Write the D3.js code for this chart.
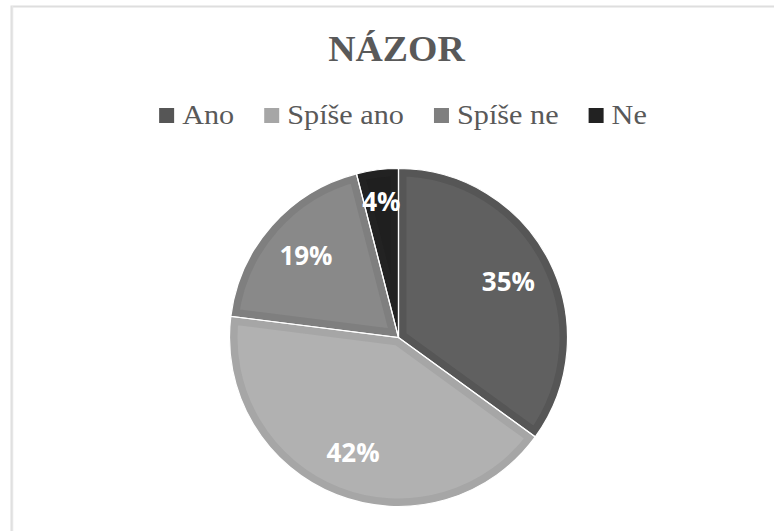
<!DOCTYPE html>
<head>
<meta charset="utf-8">
<style>
    body { margin: 0; background: #fff; }
    .title { font-family: "Liberation Serif", "Times New Roman", serif; font-weight: bold; fill: #595959; }
    .legend text { font-family: "Liberation Serif", "Times New Roman", serif; fill: #595959; }
    .label { font-family: "Open Sans", sans-serif; font-weight: bold; fill: #fff; }
</style>
<title>Názor</title>
</head>
<body>
<script src="https://cdn.jsdelivr.net/npm/d3@7"></script>
<script>
    // data
    const categories = ['Ano', 'Spíše ano', 'Spíše ne', 'Ne'];
    const values = [35, 42, 19, 4];
    const fills = ['#606060', '#b1b1b1', '#898989', '#1f1f1f'];
    const borders = ['#565656', '#a6a6a6', '#7f7f7f', '#222222'];

    const width = 774, height = 531;
    const cx = 398.5, cy = 337.5, radius = 169;

    const svg = d3.select('body').append('svg')
        .attr('width', width)
        .attr('height', height);

    // chart area frame (only top and left edges are visible)
    svg.append('rect')
        .attr('x', 11.5).attr('y', 6.5)
        .attr('width', 800).attr('height', 600)
        .attr('fill', 'none')
        .attr('stroke', '#dedede')
        .attr('stroke-width', 2);
    svg.append('line')
        .attr('x1', 12.5).attr('x2', 12.5).attr('y1', 6).attr('y2', height)
        .attr('stroke', '#e6e6e6').attr('stroke-width', 1.5);

    svg.append('text')
        .attr('class', 'title')
        .attr('transform', 'translate(396.5,61) scale(1.05,1)')
        .attr('text-anchor', 'middle')
        .attr('font-size', '36px')
        .text('NÁZOR');

    // legend
    const legend = svg.append('g').attr('class', 'legend');
    const sq = 15, gapText = 8, gapItem = 30, fs = 27, sx = 1.12;
    const items = legend.selectAll('g').data(categories).join('g');
    items.append('rect')
        .attr('y', 108).attr('width', sq).attr('height', sq)
        .attr('fill', (d, i) => borders[i]);
    items.append('text')
        .attr('font-size', fs + 'px')
        .text(d => d);
    const widths = [];
    items.select('text').each(function () { widths.push(this.getComputedTextLength() * sx); });
    const total = d3.sum(widths) + categories.length * (sq + gapText) + (categories.length - 1) * gapItem;
    let lx = 403 - total / 2;
    items.each(function (d, i) {
        const g = d3.select(this);
        g.select('rect').attr('x', lx);
        g.select('text').attr('transform', `translate(${lx + sq + gapText},124) scale(${sx},1)`);
        lx += sq + gapText + widths[i] + gapItem;
    });

    // pie
    const pie = d3.pie().value(d => d).sort(null);
    const arc = d3.arc().innerRadius(0).outerRadius(radius);
    const arcs = pie(values);
    // small slices get their label pushed further out
    const labelPos = d => {
        const r = (d.endAngle - d.startAngle) < 0.4 ? radius * 0.81 : radius * 0.73;
        return d3.arc().innerRadius(r).outerRadius(r).centroid(d);
    };

    const g = svg.append('g').attr('transform', `translate(${cx},${cy})`);
    const defs = svg.append('defs');
    arcs.forEach((a, i) => {
        defs.append('clipPath').attr('id', 'clip' + i)
            .append('path').attr('d', arc(a));
    });

    g.selectAll('path.slice')
        .data(arcs)
        .join('path')
        .attr('class', 'slice')
        .attr('d', arc)
        .attr('fill', (d, i) => fills[i])
        .attr('stroke', (d, i) => borders[i])
        .attr('stroke-width', 16)
        .attr('clip-path', (d, i) => `url(#clip${i})`);

    g.selectAll('path.sep')
        .data(arcs)
        .join('path')
        .attr('class', 'sep')
        .attr('d', arc)
        .attr('fill', 'none')
        .attr('stroke', '#fff')
        .attr('stroke-width', 1.2);

    g.selectAll('text.label')
        .data(arcs)
        .join('text')
        .attr('class', 'label')
        .attr('transform', d => `translate(${labelPos(d)})`)
        .attr('text-anchor', 'middle')
        .attr('dy', '0.36em')
        .attr('font-size', '26px')
        .text(d => d.data + '%');
</script>
</body>
